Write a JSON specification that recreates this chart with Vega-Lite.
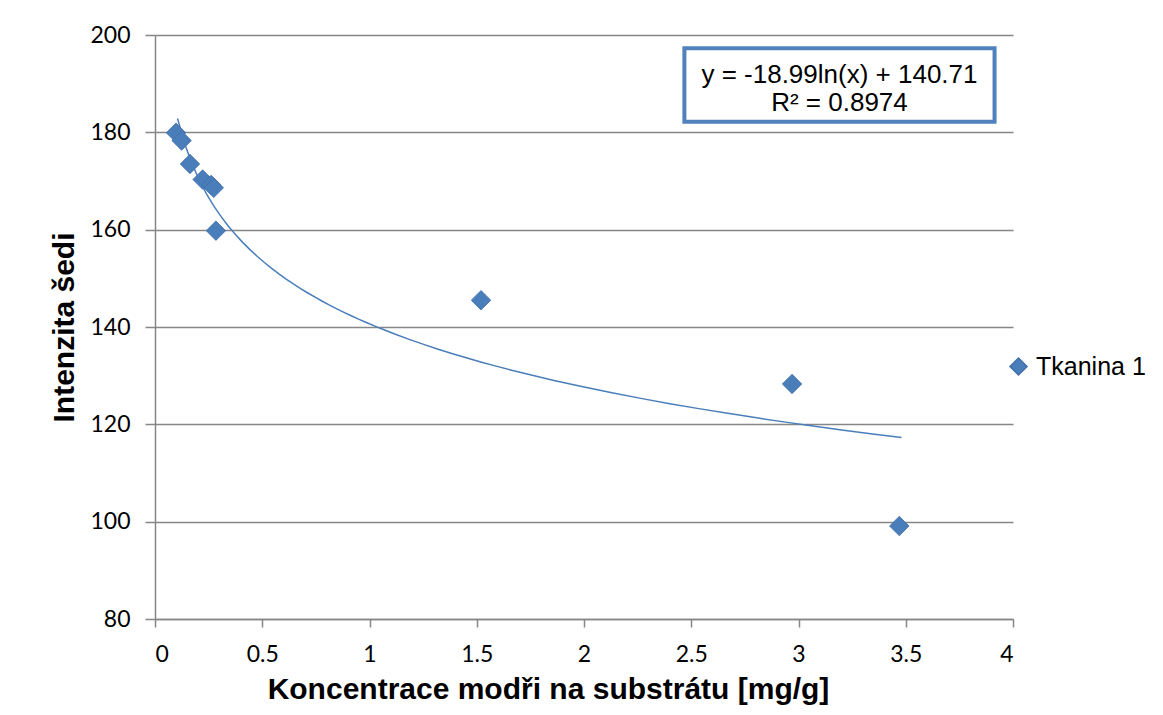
{
  "$schema": "https://vega.github.io/schema/vega-lite/v6.json",
  "width": 858,
  "height": 584,
  "autosize": {"type": "none"},
  "padding": {"left": 155, "top": 35, "right": 150, "bottom": 96},
  "background": "white",
  "config": {
    "view": {"stroke": null},
    "font": "Liberation Sans",
    "style": {"guide-label": {"font": "Lato", "fontSize": 23, "fill": "black"}},
    "axis": {
      "domainColor": "#868686",
      "domainWidth": 1.5,
      "tickColor": "#868686",
      "tickWidth": 1.5,
      "gridColor": "#868686",
      "gridWidth": 1.5,
      "labelFont": "Lato",
      "labelFontSize": 23
    }
  },
  "data": {
    "values": [
      {"c": 0.098, "g": 179.9, "series": "Tkanina 1"},
      {"c": 0.124, "g": 178.3, "series": "Tkanina 1"},
      {"c": 0.163, "g": 173.5, "series": "Tkanina 1"},
      {"c": 0.222, "g": 170.3, "series": "Tkanina 1"},
      {"c": 0.262, "g": 169.2, "series": "Tkanina 1"},
      {"c": 0.274, "g": 168.6, "series": "Tkanina 1"},
      {"c": 0.284, "g": 159.8, "series": "Tkanina 1"},
      {"c": 1.52, "g": 145.5, "series": "Tkanina 1"},
      {"c": 2.97, "g": 128.3, "series": "Tkanina 1"},
      {"c": 3.47, "g": 99.1, "series": "Tkanina 1"}
    ]
  },
  "layer": [
    {
      "transform": [
        {"regression": "g", "on": "c", "method": "log", "extent": [0.105, 3.48]}
      ],
      "mark": {"type": "line", "color": "#4A7EBB", "strokeWidth": 1.5},
      "encoding": {
        "x": {
          "field": "c", "type": "quantitative",
          "scale": {"domain": [0, 4], "nice": false, "zero": false},
          "axis": {
            "title": "Koncentrace modři na substrátu [mg/g]",
            "values": [0, 0.5, 1, 1.5, 2, 2.5, 3, 3.5, 4],
            "format": "~g",
            "grid": false,
            "tickSize": 8,
            "labelFont": "Lato",
            "labelFontSize": 23,
            "labelColor": "black",
            "labelPadding": 16,
            "titleFont": "Liberation Sans",
            "titleFontSize": 30,
            "titleFontWeight": "bold",
            "titleColor": "black",
            "titlePadding": 8,
            "titleX": 393
          }
        },
        "y": {
          "field": "g", "type": "quantitative",
          "scale": {"domain": [80, 200], "nice": false, "zero": false},
          "axis": {
            "title": "Intenzita šedi",
            "values": [80, 100, 120, 140, 160, 180, 200],
            "grid": true,
            "tickSize": 10,
            "labelFont": "Lato",
            "labelFontSize": 23,
            "labelColor": "black",
            "labelPadding": 15,
            "titleFont": "Liberation Sans",
            "titleFontSize": 30,
            "titleFontWeight": "bold",
            "titleColor": "black",
            "titlePadding": 10
          }
        }
      }
    },
    {
      "mark": {"type": "point", "shape": "diamond", "filled": true, "size": 380, "opacity": 1, "stroke": "#3F6FA8", "strokeWidth": 0.8},
      "encoding": {
        "x": {"field": "c", "type": "quantitative"},
        "y": {"field": "g", "type": "quantitative"},
        "color": {
          "field": "series", "type": "nominal",
          "scale": {"range": ["#4A7EBB"]},
          "legend": {
            "title": null,
            "orient": "none",
            "legendX": 851,
            "legendY": 319,
            "symbolType": "diamond",
            "symbolSize": 290,
            "labelFontSize": 25,
            "labelFont": "Liberation Sans",
            "labelColor": "black",
            "labelOffset": 5
          }
        }
      }
    },
    {
      "data": {"values": [{"eq": "y = -18.99ln(x) + 140.71", "r2": "R² = 0.8974"}]},
      "mark": {"type": "rect", "fill": "white", "stroke": "#4F81BD", "strokeWidth": 4},
      "encoding": {
        "x": {"datum": 2.468},
        "x2": {"datum": 3.914},
        "y": {"datum": 197.3},
        "y2": {"datum": 182.2}
      }
    },
    {
      "data": {"values": [{"eq": "y = -18.99ln(x) + 140.71", "r2": "R² = 0.8974"}]},
      "mark": {"type": "text", "fontSize": 26, "font": "Liberation Sans", "color": "black", "align": "center", "baseline": "middle"},
      "encoding": {
        "x": {"datum": 3.191},
        "y": {"datum": 191.8},
        "text": {"field": "eq"}
      }
    },
    {
      "data": {"values": [{"eq": "y = -18.99ln(x) + 140.71", "r2": "R² = 0.8974"}]},
      "mark": {"type": "text", "fontSize": 26, "font": "Liberation Sans", "color": "black", "align": "center", "baseline": "middle"},
      "encoding": {
        "x": {"datum": 3.191},
        "y": {"datum": 186.0},
        "text": {"field": "r2"}
      }
    }
  ]
}
